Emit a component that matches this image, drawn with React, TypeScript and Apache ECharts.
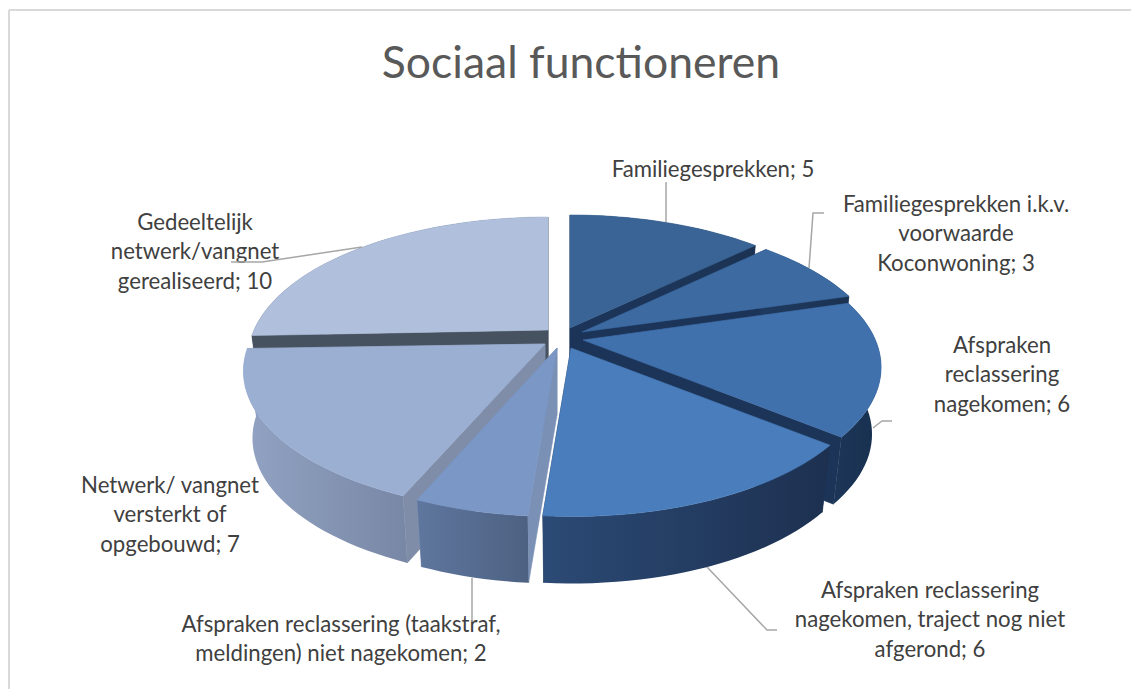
import React, { useEffect, useRef } from "react";
import * as echarts from "echarts";

const titleText = "Sociaal functioneren";
const categories = [
  "Familiegesprekken",
  "Familiegesprekken i.k.v.\nvoorwaarde\nKoconwoning",
  "Afspraken\nreclassering\nnagekomen",
  "Afspraken reclassering\nnagekomen, traject nog niet\nafgerond",
  "Afspraken reclassering (taakstraf,\nmeldingen) niet nagekomen",
  "Netwerk/ vangnet\nversterkt of\nopgebouwd",
  "Gedeeltelijk\nnetwerk/vangnet\ngerealiseerd",
];
const values = [5, 3, 6, 6, 2, 7, 10];

// Styles and layout, per slice
const topColors = ["#3a6495", "#3c6aa1", "#4171ad", "#4a7dbb", "#7a97c6", "#9bafd2", "#b0c0dc"];
const wallColors = ["#1b3458", "#1b3458", "#1b3458", "#1d3557", "#7a90b5", "#7f8da8", "#475260"];
const sideFrom = ["#1f3a60", "#1f3a60", "#1d3658", "#2b4a75", "#5f769e", "#92a3c3", "#475260"];
const sideTo = ["#1b3252", "#1b3252", "#18304f", "#1d3050", "#4d6282", "#7887a5", "#475260"];
const centers = [
  [570, 328], [576, 332], [578, 339], [572, 347], [557, 347], [545, 343], [548, 330],
];
const apexShift = [
  [0, 0], [6, 0], [5, 1], [-1, 1], [0, 1], [0, 1], [0, 0],
];
const radiusScale = [0.975, 1, 0.99, 0.97, 0.97, 0.985, 0.98];
const labelAnchors = [
  [713, 168], [956, 203], [1002, 344], [930, 589], [341, 623], [170, 484], [195, 221],
];
const drawOrder = [6, 0, 1, 2, 5, 4, 3];
const leaders = [
  [[666, 182], [666, 222]],
  [[824, 213], [813, 213], [809, 268]],
  [[892, 421], [882, 421], [873, 428]],
  [[707, 567], [767, 630], [777, 630]],
  [[472, 578], [472, 622]],
  [[231, 262], [262, 262], [362, 247]],
];

const RX = 300, RY = 135.6, PERSP = 0.2, DEPTH = 67, BOTTOM_SHRINK = 0.97;
const LINE_H = 29.5;
const FONT = "Lato, Carlito, 'Open Sans', sans-serif";
const total = values.reduce((a, b) => a + b, 0);

function project(i: number, deg: number, bottom = false) {
  const [cx, cy] = centers[i];
  const t = (deg * Math.PI) / 180;
  const u = Math.sin(t), v = Math.cos(t), d = 1 + PERSP * v;
  const k = (bottom ? BOTTOM_SHRINK : 1) * radiusScale[i];
  return [cx + (k * RX * u) / d, cy - (RY * v) / d + (bottom ? DEPTH : 0)];
}

function arc(i: number, a0: number, a1: number, bottom = false) {
  const out: number[][] = [];
  const n = Math.max(2, Math.ceil((a1 - a0) / 2));
  for (let j = 0; j <= n; j++) out.push(project(i, a0 + ((a1 - a0) * j) / n, bottom));
  return out;
}

function renderItem(_params: any, api: any) {
  const i = api.value(1) as number;
  const before = values.slice(0, i).reduce((a, b) => a + b, 0);
  const a0 = (before / total) * 360;
  const a1 = ((before + (api.value(0) as number)) / total) * 360;
  const apex = [centers[i][0] + apexShift[i][0], centers[i][1] + apexShift[i][1]];
  const top = arc(i, a0, a1);
  const bot = arc(i, a0, a1, true);
  const apexB = [apex[0], apex[1] + DEPTH];
  const wallFill = wallColors[i];
  const poly = (points: number[][], fill: any, stroke?: string) => ({
    type: "polygon",
    shape: { points },
    style: { fill, stroke: stroke || "none", lineWidth: stroke ? 0.6 : 0 },
  });
  return {
    type: "group",
    children: [
      poly([apex, top[0], bot[0], apexB], wallFill, wallFill),
      poly([apex, top[top.length - 1], bot[bot.length - 1], apexB], wallFill, wallFill),
      poly(
        [...top, ...bot.slice().reverse()],
        new echarts.graphic.LinearGradient(0, 0, 1, 0, [
          { offset: 0, color: sideFrom[i] },
          { offset: 1, color: sideTo[i] },
        ]),
      ),
      poly([apex, ...top], topColors[i], topColors[i]),
    ],
  };
}

export default function App() {
  const ref = useRef<HTMLDivElement>(null);
  useEffect(() => {
    document.body.style.margin = "0";
    const chart = echarts.init(ref.current!, null, { renderer: "svg" });
    const labelGraphics = categories.map((c, i) => {
      const lines = `${c}; ${values[i]}`.split("\n");
      return {
        type: "group",
        children: lines.map((line, j) => ({
          type: "text",
          x: labelAnchors[i][0],
          y: labelAnchors[i][1] + j * LINE_H,
          style: {
            text: line,
            fill: "#404040",
            font: `22.2px ${FONT}`,
            textAlign: "center",
            textVerticalAlign: "middle",
          },
        })),
      };
    });
    chart.setOption({
      animation: false,
      backgroundColor: "#ffffff",
      title: {
        text: titleText,
        left: 576,
        top: 33,
        textAlign: "center",
        textStyle: { color: "#595959", fontFamily: FONT, fontSize: 44.5, fontWeight: "normal" },
      },
      graphic: [
        { type: "line", shape: { x1: 9, y1: 10, x2: 1131, y2: 10 }, style: { stroke: "#d9d9d9", lineWidth: 2 } },
        { type: "line", shape: { x1: 9, y1: 10, x2: 9, y2: 689 }, style: { stroke: "#d9d9d9", lineWidth: 2 } },
        ...leaders.map((pts) => ({
          type: "polyline",
          z: 5,
          shape: { points: pts },
          style: { stroke: "#a6a6a6", lineWidth: 1.5, fill: "none" },
        })),
        ...labelGraphics.map((g) => ({ ...g, z: 6 })),
      ],
      series: [
        {
          type: "custom",
          coordinateSystem: "none",
          renderItem,
          silent: true,
          z: 2,
          data: drawOrder.map((i) => [values[i], i]),
        },
      ],
    });
    return () => chart.dispose();
  }, []);
  return <div ref={ref} style={{ position: "absolute", left: 0, top: 0, width: 1131, height: 689 }} />;
}
